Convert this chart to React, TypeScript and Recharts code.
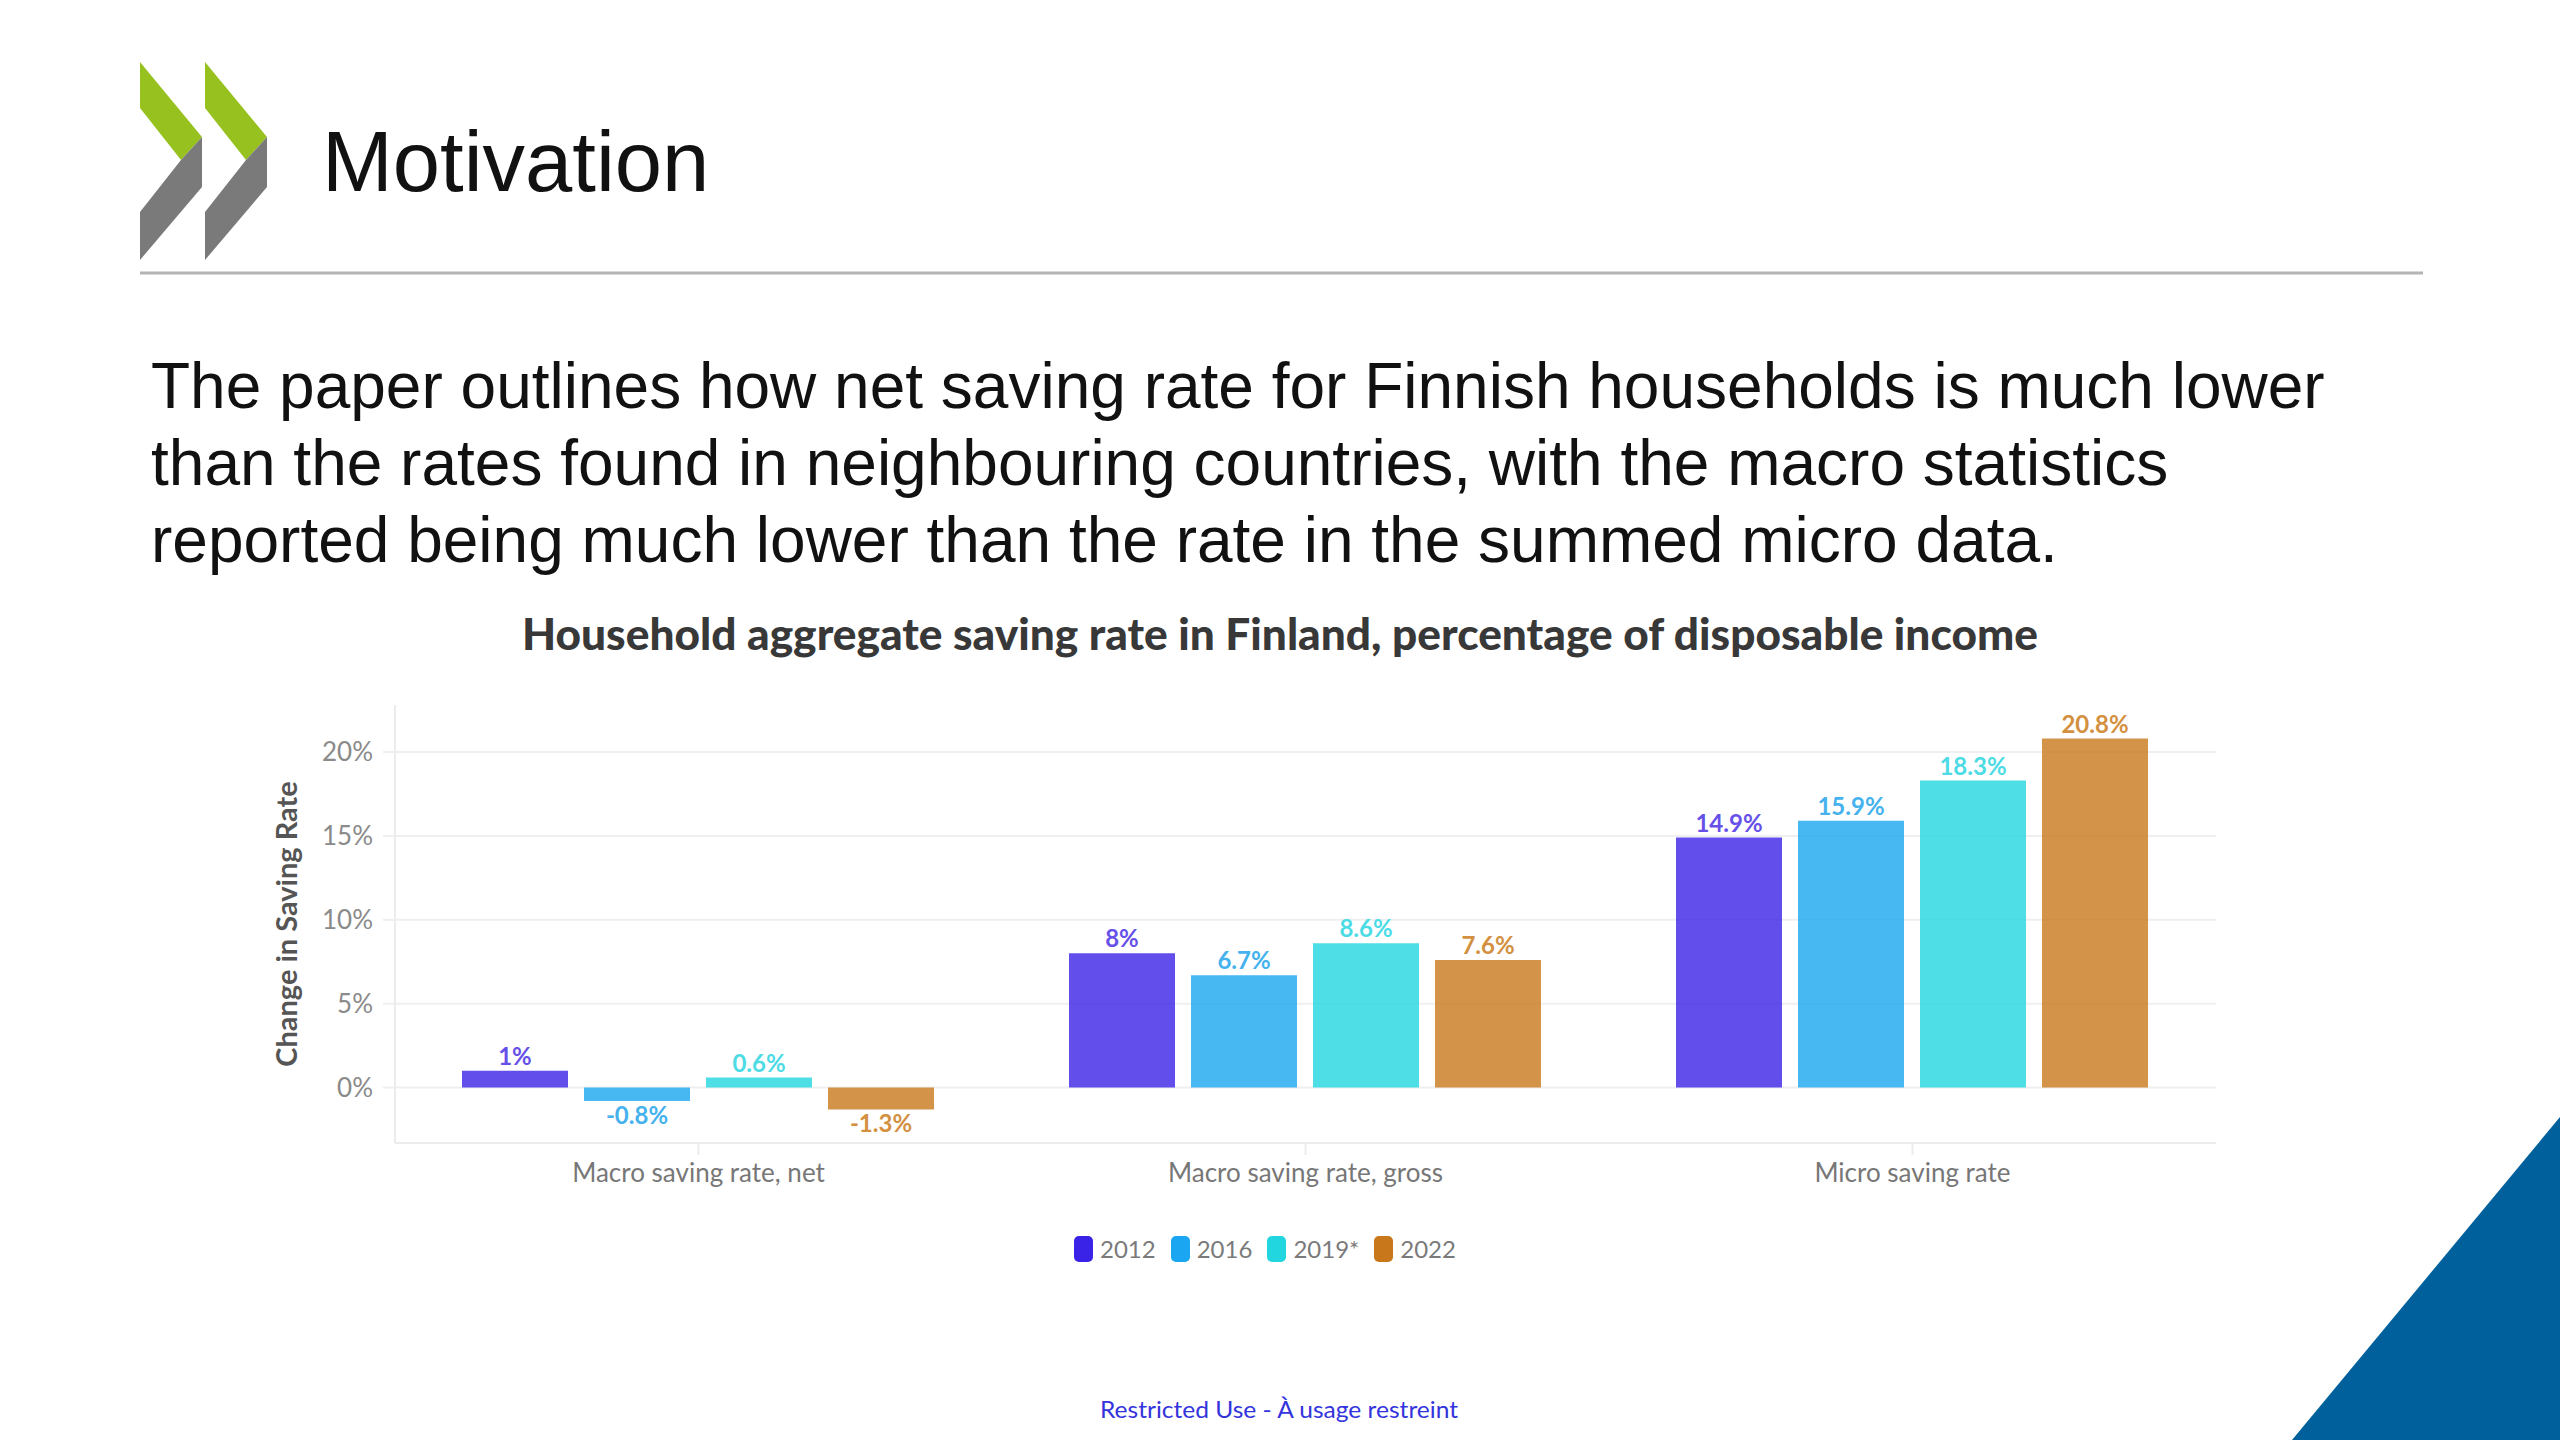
import React from "react";
import { BarChart, Bar, XAxis, YAxis, CartesianGrid, Legend, LabelList } from "recharts";

const categories = ["Macro saving rate, net", "Macro saving rate, gross", "Micro saving rate"];
const seriesNames = ["2012", "2016", "2019*", "2022"];
const values2012 = [1, 8, 14.9];
const values2016 = [-0.8, 6.7, 15.9];
const values2019 = [0.6, 8.6, 18.3];
const values2022 = [-1.3, 7.6, 20.8];
const yTicks = [0, 5, 10, 15, 20];
const seriesColors = ["#3a22e6", "#1aa6f0", "#22d6e0", "#c8781a"];
const labelColors = ["#6650e8", "#45b2ee", "#4ddbe5", "#d39040"];

const paragraphLines = [
  "The paper outlines how net saving rate for Finnish households is much lower",
  "than the rates found in neighbouring countries, with the macro statistics",
  "reported being much lower than the rate in the summed micro data.",
];

const seriesValues = [values2012, values2016, values2019, values2022];
const seriesKeys = ["y2012", "y2016", "y2019", "y2022"];

const data = categories.map((c, i) => {
  const row: Record<string, any> = { category: c };
  seriesKeys.forEach((k, j) => {
    row[k] = seriesValues[j][i];
  });
  return row;
});

const renderLegend = (props: any) => {
  const payload = props.payload || [];
  return (
    <div
      style={{
        height: 36,
        display: "flex",
        justifyContent: "center",
        alignItems: "center",
        gap: 15,
      }}
    >
      {payload.map((entry: any) => (
        <div key={entry.value} style={{ display: "flex", alignItems: "center" }}>
          <span
            style={{
              display: "inline-block",
              width: 19,
              height: 26,
              borderRadius: 5,
              background: entry.color,
              marginRight: 7,
            }}
          />
          <span style={{ fontFamily: "Lato", fontSize: 24, color: "#7a7a7a", lineHeight: "36px" }}>
            {entry.value}
          </span>
        </div>
      ))}
    </div>
  );
};

function Chevron({ dx }: { dx: number }) {
  const p = (pts: number[][]) => pts.map(([x, y]) => `${x + dx},${y}`).join(" ");
  return (
    <g>
      <polygon points={p([[140, 62], [202, 137], [181, 160], [140, 108]])} fill="#96c11f" />
      <polygon points={p([[181, 160], [202, 137], [202, 187], [140, 260], [140, 212]])} fill="#7a7a7a" />
    </g>
  );
}

export default function App() {
  return (
    <div style={{ position: "absolute", left: 0, top: 0, width: 2560, height: 1440, overflow: "hidden", background: "#fff" }}>
      <svg width={2560} height={1440} style={{ position: "absolute", left: 0, top: 0 }}>
        <Chevron dx={0} />
        <Chevron dx={65} />
        <text x={322} y={191} fontFamily="Liberation Sans" fontSize={85} fill="#111">
          Motivation
        </text>
        <line x1={140} y1={273} x2={2423} y2={273} stroke="#b4b4b4" strokeWidth={3} />
        {paragraphLines.map((line, i) => (
          <text key={i} x={151} y={408 + i * 77} fontFamily="Liberation Sans" fontSize={64} fill="#111">
            {line}
          </text>
        ))}
        <text
          x={1280}
          y={650}
          textAnchor="middle"
          fontFamily="Lato"
          fontWeight={900}
          fontSize={44}
          fill="#383838"
          textLength={1516}
          lengthAdjust="spacingAndGlyphs"
        >
          Household aggregate saving rate in Finland, percentage of disposable income
        </text>
        <text
          x={1279}
          y={1418}
          textAnchor="middle"
          fontFamily="Lato"
          fontSize={23}
          fill="#3434dc"
          textLength={358}
          lengthAdjust="spacingAndGlyphs"
        >
          Restricted Use - À usage restreint
        </text>
        <polygon points="2560,1117 2560,1440 2292,1440" fill="#00609c" />
      </svg>
      <div style={{ position: "absolute", left: 0, top: 560, width: 2560, height: 760 }}>
        <BarChart
          width={2560}
          height={760}
          data={data}
          margin={{ top: 145, right: 344, bottom: 53, left: 250 }}
          barCategoryGap={67}
          barGap={16}
        >
          <CartesianGrid vertical={false} horizontalValues={yTicks} stroke="#efefef" strokeWidth={2} />
          <XAxis
            dataKey="category"
            height={88}
            interval={0}
            axisLine={{ stroke: "#ececec", strokeWidth: 2 }}
            tickLine={{ stroke: "#ececec", strokeWidth: 2 }}
            tickSize={12}
            tickMargin={9}
            tick={{ fill: "#777", fontSize: 26, fontFamily: "Lato" }}
          />
          <YAxis
            width={145}
            domain={[-3.3, 22.8]}
            ticks={yTicks}
            interval={0}
            tickFormatter={(v: number) => `${v}%`}
            axisLine={{ stroke: "#ececec", strokeWidth: 2 }}
            tickLine={{ stroke: "#efefef", strokeWidth: 2 }}
            tickSize={12}
            tickMargin={10}
            tick={{ fill: "#8a8a8a", fontSize: 26, fontFamily: "Lato" }}
            label={{
              value: "Change in Saving Rate",
              angle: -90,
              position: "center",
              dx: -36,
              fill: "#555",
              fontSize: 29,
              fontWeight: 700,
              fontFamily: "Lato",
            }}
          />
          <Legend verticalAlign="bottom" content={renderLegend} wrapperStyle={{ left: 0, width: 2530 }} />
          {seriesKeys.map((k, j) => (
            <Bar
              key={k}
              dataKey={k}
              name={seriesNames[j]}
              fill={seriesColors[j]}
              fillOpacity={0.8}
              isAnimationActive={false}
            >
              <LabelList
                dataKey={k}
                position="top"
                offset={6}
                formatter={(v: any) => `${v}%`}
                fill={labelColors[j]}
                fontSize={24}
                fontWeight={700}
                fontFamily="Lato"
              />
            </Bar>
          ))}
        </BarChart>
      </div>
    </div>
  );
}
